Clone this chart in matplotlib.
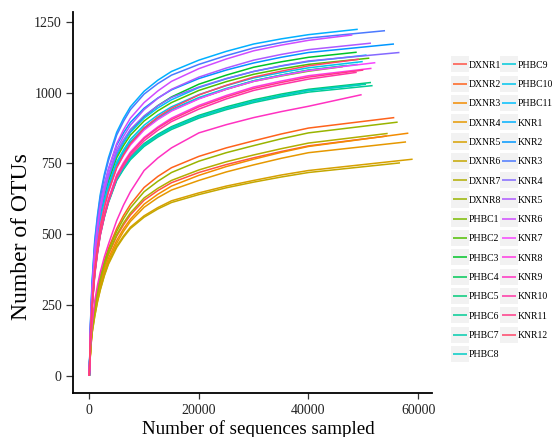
import numpy as np
import matplotlib
matplotlib.use('Agg')
from matplotlib import pyplot as plt
from matplotlib import colors as mcolors
from matplotlib.legend_handler import HandlerLine2D
from matplotlib.patches import Rectangle

plt.rcParams['font.family'] = ['Liberation Serif', 'DejaVu Serif']

# sequencing depth grid (shared by every curve) + last point of each curve
depth_grid = [0, 250, 500, 1000, 1500, 2000, 2750, 3500, 5000, 6250, 7500,
              10000, 12500, 15000, 20000, 25000, 30000, 35000, 40000]

samples = ['DXNR1', 'DXNR2', 'DXNR3', 'DXNR4', 'DXNR5', 'DXNR6', 'DXNR7', 'DXNR8',
           'PHBC1', 'PHBC2', 'PHBC3', 'PHBC4', 'PHBC5', 'PHBC6', 'PHBC7', 'PHBC8',
           'PHBC9', 'PHBC10', 'PHBC11',
           'KNR1', 'KNR2', 'KNR3', 'KNR4', 'KNR5', 'KNR6', 'KNR7', 'KNR8',
           'KNR9', 'KNR10', 'KNR11', 'KNR12']

end_depth = [54270, 55660, 58220, 57800, 59000, 56700, 54450, 56270,
             46250, 51100, 48800, 47000, 51400, 51700, 50500, 49500,
             49000, 49900, 50600,
             48990, 55600, 53960, 56600, 51400, 48000, 52200, 51500,
             49700, 48800, 50000, 49200]

end_otus = [847, 912, 857, 826, 765, 752, 856, 896,
            1092, 1122, 1143, 1096, 1036, 1025, 1030, 1028,
            1100, 1110, 1133,
            1224, 1172, 1219, 1142, 1175, 1204, 1106, 1086,
            993, 1072, 1080, 1118]

otus = [
    [0, 102, 165, 236, 290, 335, 386, 428, 493, 533, 568, 620, 654, 682, 718, 746, 770, 792, 812],        # DXNR1
    [0, 105, 170, 245, 303, 350, 405, 450, 520, 566, 605, 665, 704, 735, 775, 805, 830, 854, 875],        # DXNR2
    [0, 99, 160, 230, 282, 325, 375, 415, 478, 519, 553, 606, 641, 670, 708, 739, 765, 789, 810],         # DXNR3
    [0, 96, 155, 222, 273, 315, 365, 405, 468, 510, 545, 595, 629, 656, 690, 720, 745, 768, 788],         # DXNR4
    [0, 93, 150, 212, 263, 305, 356, 398, 458, 494, 525, 565, 594, 618, 646, 670, 690, 709, 725],         # DXNR5
    [0, 92, 148, 210, 261, 302, 353, 394, 453, 489, 520, 560, 589, 612, 640, 664, 684, 702, 718],         # DXNR6
    [0, 102, 165, 238, 293, 338, 390, 432, 498, 540, 575, 628, 662, 690, 727, 756, 780, 802, 822],        # DXNR7
    [0, 104, 168, 242, 299, 345, 398, 442, 510, 555, 593, 650, 687, 718, 758, 788, 813, 837, 858],        # DXNR8
    [0, 164, 265, 400, 480, 545, 611, 665, 745, 788, 825, 874, 909, 938, 980, 1012, 1040, 1059, 1076],    # PHBC1
    [0, 167, 270, 410, 493, 560, 629, 685, 770, 813, 850, 900, 936, 965, 1008, 1039, 1065, 1084, 1100],   # PHBC2
    [0, 174, 280, 420, 503, 570, 639, 695, 780, 824, 862, 915, 954, 985, 1030, 1062, 1090, 1109, 1125],   # PHBC3
    [0, 162, 262, 398, 477, 542, 608, 662, 742, 785, 822, 872, 908, 937, 980, 1013, 1042, 1062, 1080],    # PHBC4
    [0, 152, 245, 370, 444, 505, 568, 620, 698, 738, 772, 820, 853, 880, 920, 950, 975, 995, 1012],       # PHBC5
    [0, 149, 240, 362, 436, 497, 560, 612, 690, 729, 763, 810, 843, 870, 910, 940, 965, 985, 1002],       # PHBC6
    [0, 150, 242, 366, 440, 500, 563, 615, 693, 733, 767, 815, 848, 875, 915, 945, 970, 990, 1008],       # PHBC7
    [0, 151, 243, 367, 441, 502, 565, 616, 694, 734, 768, 816, 849, 876, 916, 945, 970, 990, 1008],       # PHBC8
    [0, 167, 270, 405, 484, 548, 614, 668, 748, 790, 826, 876, 911, 940, 983, 1015, 1042, 1062, 1079],    # PHBC9
    [0, 171, 275, 410, 490, 555, 621, 675, 755, 798, 835, 885, 921, 950, 993, 1025, 1052, 1071, 1088],    # PHBC10
    [0, 180, 290, 430, 513, 580, 646, 700, 782, 824, 860, 910, 946, 975, 1018, 1049, 1075, 1094, 1110],   # PHBC11
    [0, 205, 330, 480, 568, 640, 712, 770, 860, 909, 950, 1005, 1044, 1075, 1115, 1146, 1172, 1190, 1205],  # KNR1
    [0, 192, 310, 455, 540, 610, 676, 730, 815, 858, 895, 945, 981, 1010, 1050, 1080, 1105, 1125, 1142],  # KNR2
    [0, 198, 320, 470, 558, 630, 702, 760, 850, 899, 940, 995, 1032, 1062, 1100, 1131, 1158, 1177, 1193],  # KNR3
    [0, 183, 295, 435, 518, 585, 651, 705, 790, 833, 870, 918, 954, 983, 1020, 1050, 1075, 1095, 1112],   # KNR4
    [0, 180, 290, 430, 515, 585, 654, 710, 800, 846, 885, 940, 980, 1012, 1055, 1087, 1115, 1135, 1152],  # KNR5
    [0, 186, 300, 445, 530, 600, 672, 730, 820, 869, 910, 965, 1006, 1040, 1085, 1119, 1148, 1168, 1185],  # KNR6
    [0, 158, 255, 385, 465, 530, 596, 650, 735, 778, 815, 868, 905, 935, 978, 1012, 1040, 1060, 1078],    # KNR7
    [0, 149, 240, 365, 442, 505, 571, 625, 710, 753, 790, 842, 879, 910, 955, 990, 1020, 1041, 1060],     # KNR8
    [0, 112, 180, 265, 320, 365, 420, 465, 548, 603, 650, 725, 769, 805, 858, 887, 912, 933, 952],        # KNR9
    [0, 144, 232, 355, 432, 495, 561, 615, 698, 741, 778, 830, 867, 898, 942, 978, 1008, 1029, 1048],     # KNR10
    [0, 146, 235, 360, 437, 500, 566, 620, 705, 748, 785, 838, 875, 905, 950, 985, 1015, 1036, 1055],     # KNR11
    [0, 155, 250, 380, 460, 525, 594, 650, 735, 781, 820, 875, 914, 945, 992, 1026, 1055, 1076, 1095],    # KNR12
]


def hue_colors(n, l=65, c=100):
    # evenly spaced hues in HCL space (ggplot-like), pushed a bit more vivid
    hues = np.linspace(15, 375, n + 1)[:-1]
    Xn, Yn, Zn = 95.047, 100.0, 108.883
    un = 4 * Xn / (Xn + 15 * Yn + 3 * Zn)
    vn = 9 * Yn / (Xn + 15 * Yn + 3 * Zn)
    M = np.array([[3.2406, -1.5372, -0.4986],
                  [-0.9689, 1.8758, 0.0415],
                  [0.0557, -0.2040, 1.0570]])
    cols = []
    for h in hues:
        u = c * np.cos(np.radians(h))
        v = c * np.sin(np.radians(h))
        Y = Yn * ((l + 16) / 116) ** 3
        up = u / (13 * l) + un
        vp = v / (13 * l) + vn
        X = Y * 9 * up / (4 * vp)
        Z = Y * (12 - 3 * up - 20 * vp) / (4 * vp)
        rgb = M @ (np.array([X, Y, Z]) / 100)
        rgb = np.clip(rgb, 0, None)
        rgb = np.where(rgb <= 0.0031308, 12.92 * rgb, 1.055 * rgb ** (1 / 2.4) - 0.055)
        hsv = mcolors.rgb_to_hsv(np.clip(rgb, 0, 1))
        hsv[1] = min(1.0, hsv[1] * 1.3)
        hsv[2] = min(1.0, hsv[2] * 1.06)
        cols.append(tuple(mcolors.hsv_to_rgb(hsv)))
    return cols


class KeyBox(HandlerLine2D):
    # legend key with the light grey ggplot background
    def create_artists(self, legend, orig_handle, xdescent, ydescent,
                       width, height, fontsize, trans):
        arts = super().create_artists(legend, orig_handle, xdescent, ydescent,
                                      width, height, fontsize, trans)
        pad = 0.48 * fontsize
        bg = Rectangle((-xdescent - 1, -ydescent - pad), width + 2, height + 2 * pad,
                       facecolor='#f2f2f2', edgecolor='none', transform=trans)
        return [bg] + arts


colors = hue_colors(len(samples))

fig = plt.figure(figsize=(5.52, 4.37), dpi=100)
ax = fig.add_axes([0.1322, 0.1007, 0.6498, 0.8718])

for i, name in enumerate(samples):
    xs = depth_grid + [end_depth[i]]
    ys = otus[i] + [end_otus[i]]
    ax.plot(xs, ys, color=colors[i], lw=1.1, label=name, solid_capstyle='butt')

ax.set_xlim(-2975, 62475)
ax.set_ylim(-61, 1285)
ax.set_xticks([0, 20000, 40000, 60000])
ax.set_yticks([0, 250, 500, 750, 1000, 1250])
for s in ['top', 'right']:
    ax.spines[s].set_visible(False)
for s in ['left', 'bottom']:
    ax.spines[s].set_linewidth(1.3)
    ax.spines[s].set_color('black')
ax.tick_params(axis='both', width=0.9, color='#333333',
               labelsize=10, labelcolor='#222222')
ax.tick_params(axis='x', length=4.5, pad=3.5)
ax.tick_params(axis='y', length=5, pad=3)

ax.set_xlabel('Number of sequences sampled', fontsize=13.7)
ax.xaxis.set_label_coords(0.516, -0.072)
ax.set_ylabel('Number of OTUs', fontsize=17)
ax.yaxis.set_label_coords(-0.114, 0.41)

leg = fig.legend(handles=ax.get_lines(), ncol=2, frameon=False,
                 loc='upper left', bbox_to_anchor=(0.8198, 0.861),
                 fontsize=7.0, handlelength=1.5, handletextpad=0.2,
                 columnspacing=0.0, labelspacing=1.06, borderpad=0,
                 borderaxespad=0, handler_map={matplotlib.lines.Line2D: KeyBox()})

fig.savefig('out.png', dpi=100)
